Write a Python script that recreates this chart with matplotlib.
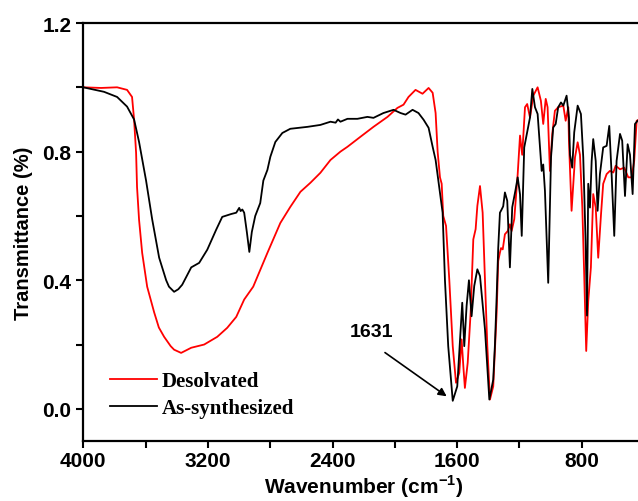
import matplotlib
matplotlib.use("Agg")
import matplotlib.pyplot as plt
from matplotlib.ticker import MultipleLocator

plt.rcParams['mathtext.fontset'] = 'custom'
plt.rcParams['mathtext.rm'] = 'Liberation Sans:bold'
plt.rcParams['mathtext.bf'] = 'Liberation Sans:bold'

# As-synthesized (black)
wn_as = [4000, 3867, 3783, 3719, 3674, 3642, 3597, 3558, 3513, 3468, 3450, 3417, 3390, 3365, 3307,
         3256, 3204, 3147, 3108, 3050, 3018, 2999, 2990, 2979, 2967, 2950, 2934, 2918, 2896, 2864,
         2844, 2818, 2799, 2767, 2722, 2671, 2561, 2478, 2413, 2380, 2365, 2349, 2304, 2240, 2176,
         2137, 2073, 2008, 1963, 1931, 1886, 1848, 1815, 1783, 1757, 1738, 1721, 1693, 1678, 1657,
         1628, 1599, 1577, 1567, 1554, 1539, 1524, 1507, 1490, 1470, 1453, 1421, 1393, 1368, 1357,
         1346, 1336, 1325, 1314, 1304, 1293, 1278, 1261, 1246, 1224, 1211, 1196, 1185, 1169, 1150,
         1132, 1117, 1100, 1083, 1068, 1057, 1047, 1036, 1015, 997, 983, 967, 951, 933, 918,
         897, 882, 875, 861, 848, 826, 805, 790, 775, 766, 758, 747, 736, 726, 710,
         698, 683, 662, 640, 623, 608, 591, 576, 554, 540, 522, 505, 490, 473, 458,
         441, 430]
t_as = [1.0, 0.986, 0.97, 0.94, 0.90, 0.83, 0.71, 0.59, 0.47, 0.40, 0.38, 0.364, 0.372, 0.386, 0.44,
        0.454, 0.495, 0.557, 0.597, 0.606, 0.61, 0.625, 0.615, 0.62, 0.61, 0.55, 0.488, 0.55, 0.60, 0.64,
        0.71, 0.743, 0.784, 0.83, 0.858, 0.871, 0.877, 0.883, 0.893, 0.89, 0.90, 0.893, 0.902, 0.902, 0.908,
        0.905, 0.92, 0.93, 0.92, 0.915, 0.93, 0.92, 0.899, 0.874, 0.815, 0.774, 0.712, 0.61, 0.40, 0.195,
        0.025, 0.07, 0.247, 0.33, 0.195, 0.32, 0.40, 0.288, 0.382, 0.434, 0.413, 0.247, 0.029, 0.091, 0.20,
        0.35, 0.50, 0.61, 0.62, 0.63, 0.673, 0.647, 0.44, 0.627, 0.683, 0.72, 0.667, 0.538, 0.813, 0.86,
        0.906, 0.995, 0.938, 0.917, 0.813, 0.74, 0.76, 0.678, 0.392, 0.782, 0.875, 0.886, 0.938, 0.953, 0.943,
        0.974, 0.906, 0.79, 0.75, 0.86, 0.943, 0.917, 0.782, 0.522, 0.29, 0.70, 0.626, 0.771, 0.839, 0.771,
        0.616, 0.73, 0.813, 0.818, 0.88, 0.73, 0.538, 0.771, 0.855, 0.834, 0.662, 0.823, 0.79, 0.668, 0.886,
        0.896, 0.90]

# Desolvated (red)
wn_de = [4000, 3886, 3783, 3719, 3687, 3674, 3661, 3655, 3642, 3622, 3590, 3545, 3515, 3481, 3439,
         3417, 3372, 3307, 3224, 3140, 3076, 3018, 2967, 2909, 2818, 2735, 2671, 2606, 2542, 2478,
         2413, 2349, 2304, 2221, 2137, 2047, 1983, 1944, 1912, 1867, 1822, 1783, 1757, 1738, 1725,
         1710, 1699, 1689, 1671, 1650, 1628, 1607, 1586, 1571, 1560, 1550, 1532, 1513, 1496, 1481,
         1470, 1453, 1436, 1421, 1406, 1389, 1368, 1346, 1336, 1325, 1318, 1307, 1293, 1275, 1261,
         1250, 1233, 1211, 1196, 1182, 1164, 1150, 1132, 1111, 1083, 1062, 1047, 1031, 1019, 1004,
         989, 972, 951, 918, 903, 886, 882, 865, 843, 826, 811, 796, 784, 771, 758,
         741, 726, 710, 694, 676, 662, 640, 619, 597, 582, 554, 527, 501, 479, 463,
         447, 430]
t_de = [1.0, 0.998, 1.0, 0.992, 0.97, 0.90, 0.796, 0.69, 0.588, 0.485, 0.38, 0.30, 0.253, 0.224, 0.195,
        0.184, 0.174, 0.19, 0.20, 0.224, 0.252, 0.286, 0.34, 0.38, 0.485, 0.578, 0.628, 0.675, 0.703, 0.734,
        0.774, 0.80, 0.815, 0.846, 0.877, 0.908, 0.936, 0.946, 0.97, 0.992, 0.98, 0.998, 0.983, 0.92, 0.80,
        0.72, 0.70, 0.60, 0.569, 0.40, 0.195, 0.081, 0.112, 0.216, 0.133, 0.065, 0.143, 0.30, 0.527, 0.559,
        0.631, 0.693, 0.61, 0.40, 0.195, 0.029, 0.07, 0.30, 0.46, 0.486, 0.50, 0.496, 0.543, 0.553, 0.574,
        0.553, 0.59, 0.73, 0.85, 0.79, 0.938, 0.948, 0.906, 0.974, 1.0, 0.958, 0.886, 0.964, 0.938, 0.74,
        0.855, 0.927, 0.938, 0.943, 0.896, 0.938, 0.834, 0.616, 0.782, 0.829, 0.79, 0.626, 0.418, 0.18, 0.335,
        0.44, 0.668, 0.626, 0.47, 0.605, 0.70, 0.73, 0.74, 0.735, 0.756, 0.745, 0.75, 0.72, 0.72, 0.771,
        0.896, 0.90]

x_ticks = [4000, 3200, 2400, 1600, 800]
y_ticks = [0.0, 0.4, 0.8, 1.2]
peak_label = "1631"
peak_wn = 1631
peak_t = 0.022

fig = plt.figure(figsize=(6.38, 5.02), dpi=100)
ax = fig.add_axes([83.3/638, 1-442/502, (644-83.3)/638, (442-24)/502])

ax.plot(wn_de, t_de, color='#ff0000', lw=1.3, label='Desolvated')
ax.plot(wn_as, t_as, color='black', lw=1.3, label='As-synthesized')

ax.set_xlim(4000, 400)
ax.set_ylim(-0.1, 1.2)
ax.set_xticks(x_ticks)
ax.set_yticks(y_ticks)
ax.xaxis.set_minor_locator(MultipleLocator(400))
ax.yaxis.set_minor_locator(MultipleLocator(0.2))
ax.set_xticklabels([str(v) for v in x_ticks])
ax.set_yticklabels([f"{v:.1f}" for v in y_ticks])
ax.tick_params(which='both', direction='out', length=5, width=1.5)
ax.tick_params(axis='x', pad=2.5)
for lab in ax.get_xticklabels() + ax.get_yticklabels():
    lab.set_fontfamily('Liberation Sans')
    lab.set_fontweight('bold')
    lab.set_fontsize(15)
for s in ax.spines.values():
    s.set_linewidth(1.6)

ax.set_xlabel(r'Wavenumber (cm$^{-1}$)', fontfamily='Liberation Sans', fontweight='bold', fontsize=15)
ax.xaxis.set_label_coords(0.5, -0.074)
ax.set_ylabel('Transmittance (%)', fontfamily='Liberation Sans', fontweight='bold', fontsize=14.5)
ax.yaxis.set_label_coords(-0.09, 0.5)

ax.annotate('', xy=(1667, 0.039), xytext=(2063, 0.175),
            arrowprops=dict(arrowstyle='-|>', color='black', lw=1.2, mutation_scale=12,
                            shrinkA=0, shrinkB=0))
ax.text(2150, 0.239, peak_label, fontfamily='Liberation Sans', fontweight='bold', fontsize=14,
        ha='center', va='center')

leg = ax.legend(loc='upper left', bbox_to_anchor=(110/638, 1-372/502), bbox_transform=fig.transFigure,
                frameon=False, prop={'family': 'Liberation Serif', 'weight': 'bold', 'size': 15},
                handlelength=2.25, handletextpad=0.25, labelspacing=0.33, borderpad=0, borderaxespad=0)

fig.savefig('out.png', dpi=100)
